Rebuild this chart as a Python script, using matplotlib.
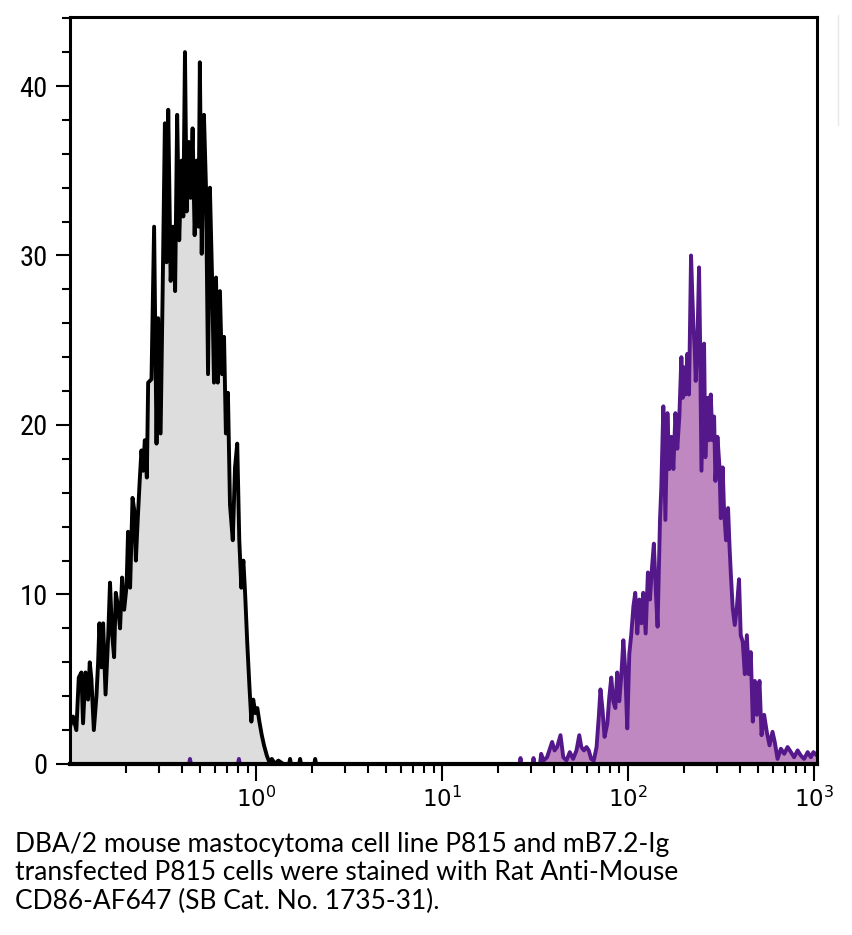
import matplotlib.pyplot as plt
import numpy as np
from matplotlib.ticker import FixedLocator, LogLocator, MultipleLocator, NullFormatter
from matplotlib.lines import Line2D

# control (unstained P815): log10 of fluorescence and cell count per channel
grey_log = [-1.0, -0.984, -0.966, -0.953, -0.939, -0.930, -0.917, -0.903, -0.894, -0.885,
            -0.872, -0.858, -0.849, -0.842, -0.831, -0.822, -0.809, -0.795, -0.785, -0.774,
            -0.763, -0.754, -0.742, -0.731, -0.720, -0.709, -0.696, -0.688, -0.677, -0.664,
            -0.655, -0.646, -0.637, -0.625, -0.616, -0.607, -0.598, -0.587, -0.580, -0.562,
            -0.548, -0.535, -0.526, -0.513, -0.502, -0.490, -0.481, -0.472, -0.459, -0.445,
            -0.435, -0.424, -0.413, -0.400, -0.391, -0.382, -0.373, -0.362, -0.352, -0.341,
            -0.330, -0.319, -0.309, -0.302, -0.292, -0.280, -0.269, -0.258, -0.248, -0.237,
            -0.226, -0.215, -0.206, -0.194, -0.183, -0.172, -0.162, -0.151, -0.140, -0.125,
            -0.113, -0.101, -0.090, -0.079, -0.068, -0.058, -0.047, -0.036, -0.025, -0.015,
            -0.004, 0.007, 0.018, 0.031, 0.043, 0.058, 0.072, 0.085, 0.102, 0.120,
            0.147, 0.178, 0.183, 0.188, 0.232, 0.237, 0.242, 0.313, 0.318, 0.323]
grey_count = [2.2, 2.8, 2.0, 5.1, 5.4, 2.4, 5.4, 3.8, 6.0, 5.0,
              2.0, 4.0, 6.0, 8.3, 5.7, 8.3, 4.1, 7.5, 10.7, 7.7,
              6.3, 10.1, 9.3, 8.0, 11.0, 9.1, 10.5, 13.7, 10.4, 15.7,
              15.0, 12.0, 14.2, 16.8, 18.5, 17.3, 19.1, 16.9, 22.5, 22.7,
              31.7, 18.9, 26.3, 19.5, 27.9, 37.8, 29.6, 38.6, 28.5, 31.7,
              27.9, 38.3, 30.9, 35.6, 32.3, 42.0, 32.6, 36.7, 33.4, 37.5,
              31.2, 35.6, 31.7, 41.4, 30.1, 38.3, 34.0, 23.0, 34.0, 29.0,
              22.5, 28.7, 22.5, 27.9, 23.0, 25.2, 19.5, 21.9, 15.3, 13.2,
              17.5, 18.9, 13.2, 10.4, 12.0, 9.9, 7.1, 4.7, 2.5, 3.8,
              3.0, 3.3, 2.5, 1.7, 1.1, 0.5, 0.1, 0.3, 0, 0.2,
              0, 0, 0.3, 0, 0, 0.3, 0, 0, 0.3, 0]

# mB7.2-Ig transfected P815
purple_log = [-0.360, -0.355, -0.350, -0.097, -0.092, -0.087, 1.417, 1.422, 1.427, 1.487,
              1.492, 1.497, 1.527, 1.533, 1.546, 1.565, 1.592, 1.605, 1.619, 1.637,
              1.652, 1.669, 1.687, 1.705, 1.723, 1.738, 1.749, 1.763, 1.777, 1.789,
              1.802, 1.816, 1.831, 1.843, 1.852, 1.863, 1.874, 1.889, 1.899, 1.910,
              1.921, 1.932, 1.942, 1.953, 1.964, 1.975, 1.985, 1.996, 2.007, 2.018,
              2.029, 2.039, 2.050, 2.061, 2.072, 2.082, 2.095, 2.107, 2.118, 2.129,
              2.139, 2.150, 2.159, 2.172, 2.179, 2.190, 2.201, 2.212, 2.222, 2.233,
              2.244, 2.255, 2.265, 2.276, 2.287, 2.294, 2.301, 2.310, 2.319, 2.328,
              2.339, 2.346, 2.352, 2.359, 2.364, 2.373, 2.382, 2.387, 2.395, 2.409,
              2.416, 2.427, 2.436, 2.445, 2.454, 2.463, 2.470, 2.481, 2.492, 2.499,
              2.509, 2.516, 2.527, 2.538, 2.546, 2.553, 2.563, 2.574, 2.585, 2.597,
              2.606, 2.617, 2.628, 2.639, 2.649, 2.660, 2.671, 2.682, 2.693, 2.707,
              2.718, 2.732, 2.746, 2.761, 2.777, 2.789, 2.804, 2.822, 2.840, 2.858,
              2.876, 2.893, 2.912, 2.929, 2.947, 2.966, 2.983, 2.997, 3.016]
purple_count = [0, 0.3, 0, 0, 0.3, 0, 0, 0.35, 0, 0,
                0.35, 0, 0, 0.6, 0.2, 0.4, 1.3, 0.8, 1.0, 1.7,
                0.4, 0.2, 0.7, 0.3, 0.8, 1.7, 1.0, 0.8, 1.0, 0.8,
                0.3, 0.2, 1.0, 2.8, 4.4, 3.2, 1.6, 2.4, 3.9, 5.1,
                3.7, 3.3, 5.4, 3.7, 5.2, 7.3, 5.6, 2.1, 6.5, 7.7,
                9.3, 10.1, 7.7, 9.7, 8.3, 10.1, 7.7, 11.3, 9.7, 11.6,
                13.0, 10.1, 8.1, 14.4, 16.3, 21.1, 14.4, 20.7, 17.4, 19.3,
                17.4, 20.7, 18.6, 20.5, 24.0, 21.6, 23.4, 21.8, 24.2, 21.8,
                30.0, 27.6, 25.8, 24.4, 22.6, 24.8, 29.3, 25.4, 17.3, 24.8,
                18.1, 21.6, 19.1, 21.8, 19.1, 20.5, 16.7, 19.3, 17.5, 14.5,
                17.5, 15.1, 13.2, 15.1, 12.8, 11.2, 9.2, 8.2, 9.2, 10.9,
                7.6, 7.2, 5.3, 7.6, 5.3, 6.6, 2.5, 4.9, 2.9, 4.9,
                1.7, 2.9, 1.9, 1.1, 1.9, 1.3, 0.3, 0.9, 0.6, 1.0,
                0.7, 0.4, 0.8, 0.5, 0.3, 0.7, 0.4, 0.7, 0.5]

x_ticks = [1, 10, 100, 1000]
x_tick_labels = [r'$\mathregular{10^{0}}$', r'$\mathregular{10^{1}}$',
                 r'$\mathregular{10^{2}}$', r'$\mathregular{10^{3}}$']
y_ticks = [0, 10, 20, 30, 40]
caption_lines = ['DBA/2 mouse mastocytoma cell line P815 and mB7.2-Ig',
                 'transfected P815 cells were stained with Rat Anti-Mouse',
                 'CD86-AF647 (SB Cat. No. 1735-31).']

assert len(grey_log) == len(grey_count)
assert len(purple_log) == len(purple_count)

fig = plt.figure(figsize=(8.53, 9.35), dpi=100)
ax = fig.add_axes([0.0821, 0.1829, 0.8757, 0.7989])

gx = 10 ** np.array(grey_log)
px = 10 ** np.array(purple_log)
ax.fill_between(gx, grey_count, color='#dddddd', lw=0)
ax.plot(gx, grey_count, color='black', lw=2.8)
ax.fill_between(px, purple_count, color='#bf88c0', lw=0)
ax.plot(px, purple_count, color='#55188b', lw=2.8)

ax.set_xscale('log')
ax.set_xlim(0.1, 1038)
ax.set_ylim(0, 44.07)

ax.xaxis.set_major_locator(FixedLocator(x_ticks))
ax.xaxis.set_minor_locator(LogLocator(base=10, subs=np.arange(2, 10)))
ax.xaxis.set_minor_formatter(NullFormatter())
ax.set_xticklabels(x_tick_labels, fontsize=16.5)

ax.set_yticks(y_ticks, labels=[str(v) for v in y_ticks],
              fontfamily=['Roboto Condensed', 'DejaVu Sans'], fontsize=20.5)
ax.yaxis.set_minor_locator(MultipleLocator(2))

ax.tick_params(axis='x', which='major', direction='out', length=12, width=1.5, pad=4)
ax.tick_params(axis='x', which='minor', direction='out', length=6.5, width=1.5)
ax.tick_params(axis='y', which='major', direction='out', length=10, width=1.5, pad=6)
ax.tick_params(axis='y', which='minor', direction='out', length=6, width=1.5)
for s in ax.spines.values():
    s.set_linewidth(2.2)
    s.set_zorder(5)
# thicker baseline so the zero runs of the outlines stay hidden under it
ax.spines['bottom'].set_linewidth(3.0)

for i, line in enumerate(caption_lines):
    fig.text(15 / 853, 1 - (852 + i * 28.5) / 935, line, fontsize=19,
             family=['Lato', 'DejaVu Sans'], va='baseline', ha='left')

# faint leftover edge on the right
fig.add_artist(Line2D([838 / 853, 838 / 853], [1 - 15 / 935, 1 - 125 / 935],
                      color='#e8e8e8', lw=1))

fig.savefig('out.png', dpi=100)
